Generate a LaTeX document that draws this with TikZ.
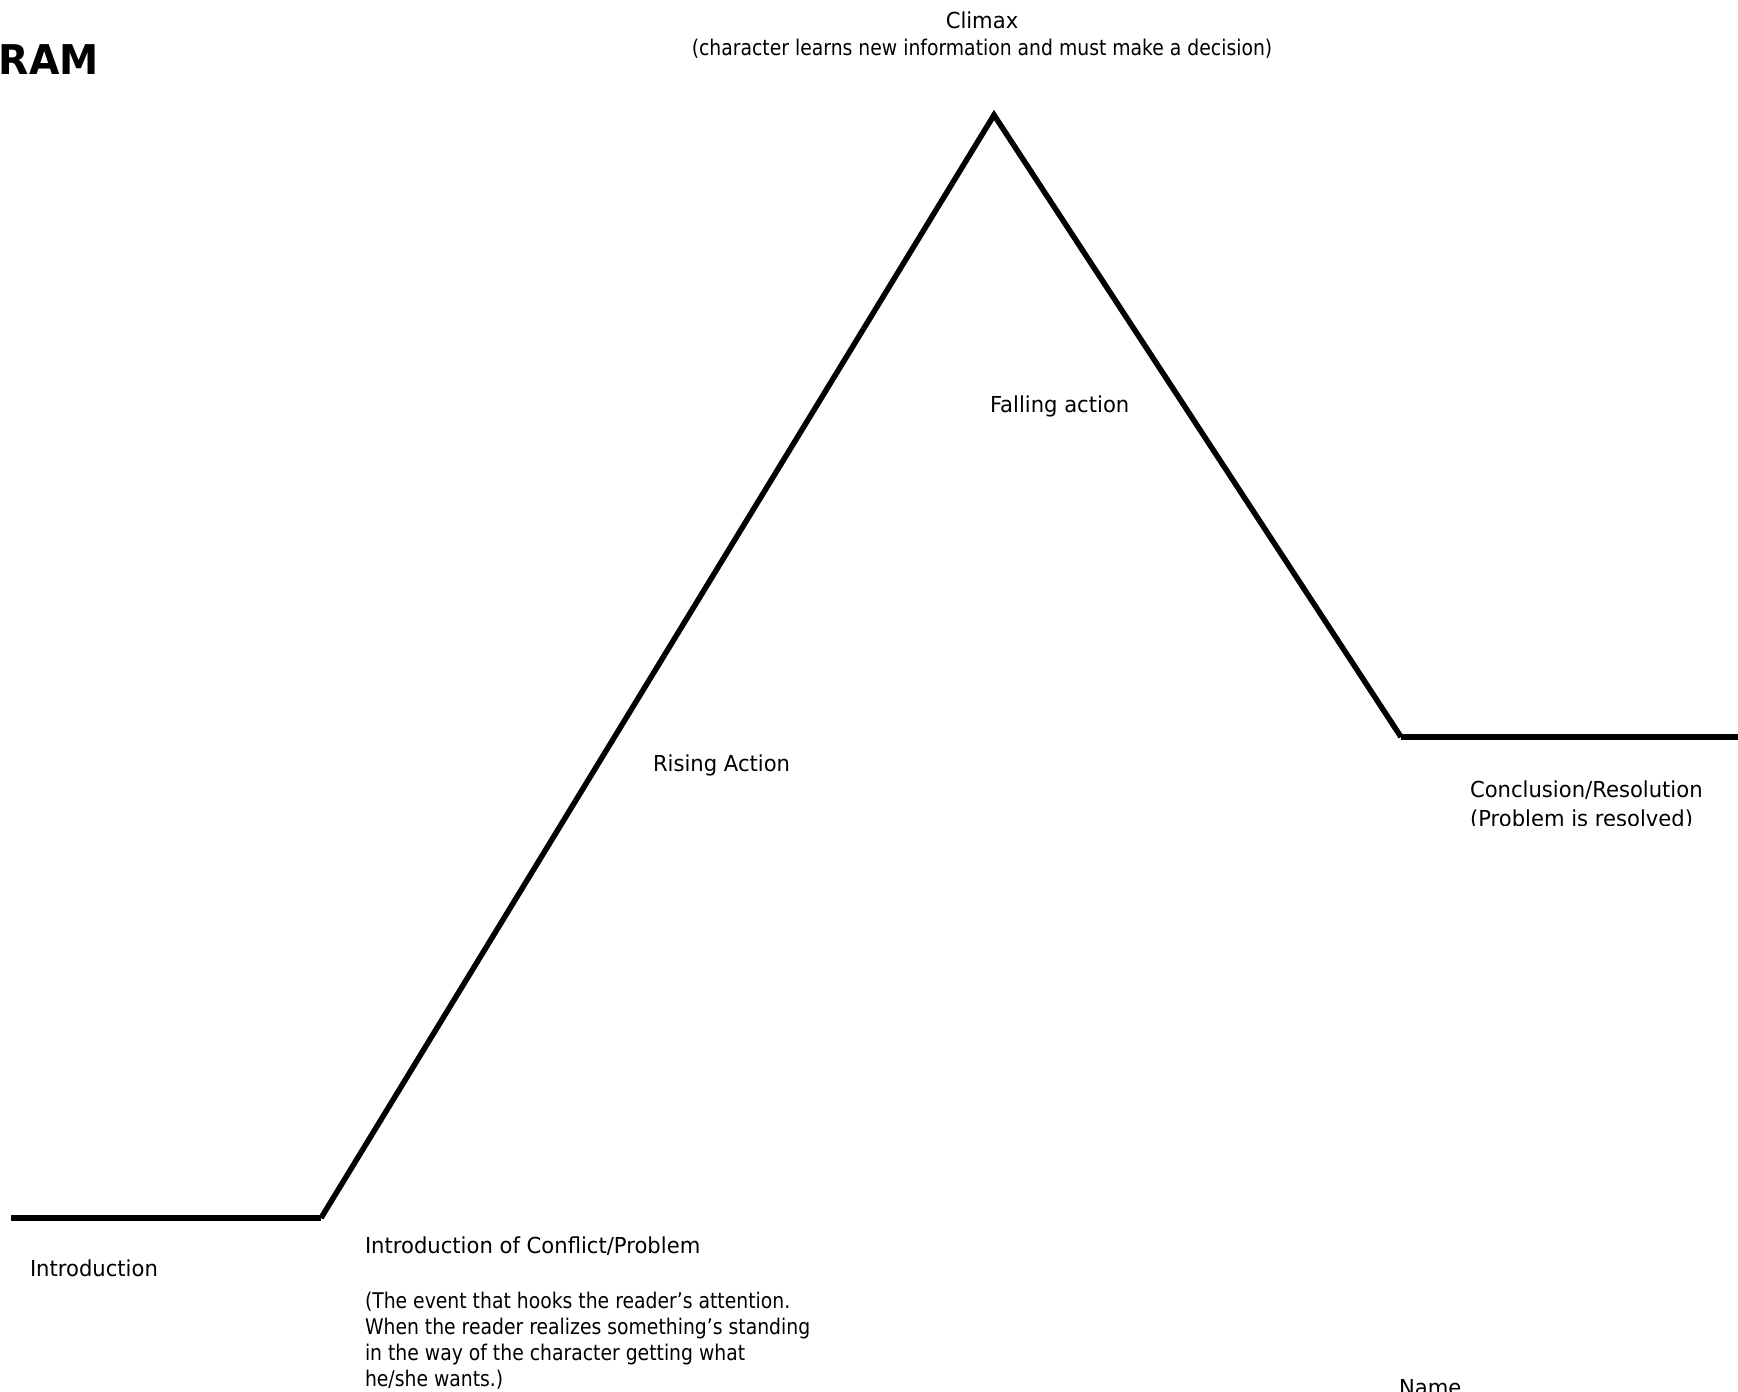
\documentclass[tikz,border=0pt]{standalone}
\usepackage{fontspec}
\setmainfont[FakeStretch=0.96]{DejaVu Sans}
\newfontfamily\narrowfont[FakeStretch=0.87]{DejaVu Sans}
\begin{document}
\begin{tikzpicture}[x=1bp,y=-1bp,
  lbl/.style={inner sep=0pt, outer sep=0pt, anchor=base west, font=\fontsize{22bp}{26bp}\selectfont},
  narrowlbl/.style={inner sep=0pt, outer sep=0pt, anchor=base west, font=\narrowfont\fontsize{21.6bp}{26bp}\selectfont},
  ctr/.style={inner sep=0pt, outer sep=0pt, anchor=base, font=\fontsize{22bp}{26bp}\selectfont},
  narrowctr/.style={inner sep=0pt, outer sep=0pt, anchor=base, font=\narrowfont\fontsize{21.6bp}{26bp}\selectfont},
  plotline/.style={line width=5.5bp, line cap=butt},
  titlefont/.style={inner sep=0pt, outer sep=0pt, anchor=base west, font=\fontsize{41bp}{48bp}\selectfont\bfseries}]
\useasboundingbox[fill=white] (0,0) rectangle (1738,1392);
% plot line
\coordinate (p0) at (11,1218);
\coordinate (p1) at (321,1218);
\coordinate (p2) at (994,115);
\coordinate (p3) at (1401,737);
\coordinate (p4) at (1738,737);
\draw[plotline] (p0) -- (p1);
\draw[plotline, line join=miter, miter limit=2] (p1) -- (p2) -- (p3);
\draw[plotline] (p3) -- (p4);
% title
\node[titlefont] (title) at (-1,75) {RAM};
% labels
\node[ctr] (climax) at (982,29) {Climax};
\node[narrowctr] (climaxnote) at (982,56) {(character learns new information and must make a decision)};
\node[lbl] (falling) at (990,412) {Falling action};
\node[lbl] (rising) at (653,771) {Rising Action};
\begin{scope}
  \clip (1400,740) rectangle (1738,825);
  \node[lbl] (concl) at (1470,797) {Conclusion/Resolution};
  \node[lbl] (conclnote) at (1470,826) {(Problem is resolved)};
\end{scope}
\node[lbl] (intro) at (30,1276) {Introduction};
\node[lbl] (conflict) at (365,1253) {Introduction of Conflict/Problem};
\node[narrowlbl] (c1) at (365,1308) {(The event that hooks the reader’s attention.};
\node[narrowlbl] (c2) at (365,1334) {When the reader realizes something’s standing};
\node[narrowlbl] (c3) at (365,1360) {in the way of the character getting what};
\node[narrowlbl] (c4) at (365,1386) {he/she wants.)};
\node[lbl] (name) at (1399,1395) {Name};
\end{tikzpicture}
\end{document}
